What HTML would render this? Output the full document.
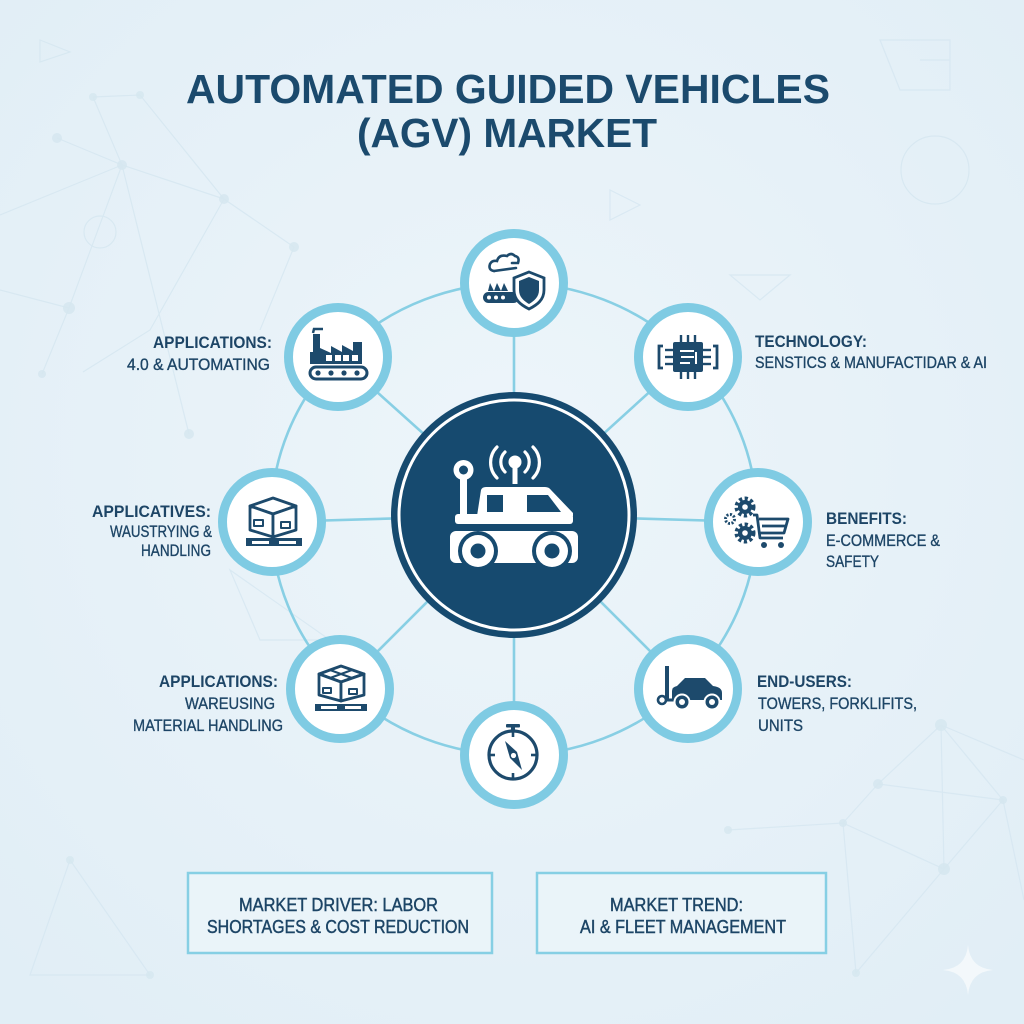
<!DOCTYPE html>
<html><head><meta charset="utf-8">
<style>
html,body{margin:0;padding:0;width:1024px;height:1024px;overflow:hidden;}
body{background:#e6f1f8;}
svg{display:block;}
</style></head>
<body>
<svg width="1024" height="1024" viewBox="0 0 1024 1024" xmlns="http://www.w3.org/2000/svg">
<defs>
<radialGradient id="bg" cx="50%" cy="45%" r="70%">
<stop offset="0" stop-color="#edf5fa"/>
<stop offset="1" stop-color="#e1eef6"/>
</radialGradient>
</defs>
<rect width="1024" height="1024" fill="url(#bg)"/>

<!-- faint background network -->
<g stroke="#d4e6f0" stroke-width="1.2" fill="none" opacity="0.75">
<path d="M93 97 L140 95 L224 199 L294 247 M93 97 L122 165 L224 199 M57 138 L122 165 L69 308 L42 374 M122 165 L189 434 M0 215 L122 165 M224 199 L150 330 L83 372 M294 247 L260 330 M0 290 L69 308"/>
<path d="M941 725 L878 784 L1003 800 L944 869 L843 823 L878 784 M941 725 L1003 800 M843 823 L728 830 M944 869 L856 973 L843 823 M941 725 L944 869 M1024 760 L941 725 M1003 800 L1024 900"/>
<path d="M70 860 L150 975 L30 975 Z M260 640 L330 640 L230 570 Z"/>
<path d="M40 40 L70 52 L40 62 Z M880 40 L950 40 L950 90 L900 90 Z M920 60 L950 60 M610 190 L640 205 L610 220 Z M730 275 L790 275 L760 300 Z"/>
<circle cx="935" cy="170" r="34"/>
<circle cx="100" cy="232" r="16"/>
</g>
<g fill="#d6e7f0" opacity="0.85">
<circle cx="93" cy="97" r="4"/><circle cx="140" cy="95" r="4"/><circle cx="57" cy="138" r="5"/>
<circle cx="122" cy="165" r="5"/><circle cx="224" cy="199" r="5"/><circle cx="294" cy="247" r="5"/>
<circle cx="69" cy="308" r="6"/><circle cx="42" cy="374" r="4"/><circle cx="189" cy="434" r="5"/>
<circle cx="941" cy="725" r="6"/><circle cx="878" cy="784" r="5"/><circle cx="1003" cy="800" r="4"/>
<circle cx="944" cy="869" r="6"/><circle cx="843" cy="823" r="4"/><circle cx="728" cy="830" r="4"/>
<circle cx="856" cy="973" r="4"/><circle cx="70" cy="860" r="4"/><circle cx="150" cy="975" r="4"/>
</g>
<path d="M968 945 Q970 968 993 970 Q970 972 968 995 Q966 972 943 970 Q966 968 968 945 Z" fill="#f3f8fb"/>

<!-- Title -->
<g font-family="Liberation Sans, Arial, sans-serif" font-weight="bold" fill="#1b4a6d">
<text x="186" y="103" font-size="41" textLength="644" lengthAdjust="spacingAndGlyphs">AUTOMATED GUIDED VEHICLES</text>
<text x="357" y="147" font-size="41" textLength="300" lengthAdjust="spacingAndGlyphs">(AGV) MARKET</text>
</g>

<!-- Ring and spokes -->
<g stroke="#88cfe4" stroke-width="2.6" fill="none">
<ellipse cx="514" cy="519" rx="243" ry="236"/>
<line x1="514" y1="515" x2="514" y2="283"/>
<line x1="514" y1="515" x2="688" y2="357"/>
<line x1="514" y1="515" x2="758" y2="522"/>
<line x1="514" y1="515" x2="688" y2="689"/>
<line x1="514" y1="515" x2="514" y2="755"/>
<line x1="514" y1="515" x2="340" y2="689"/>
<line x1="514" y1="515" x2="272" y2="522"/>
<line x1="514" y1="515" x2="338" y2="357"/>
</g>

<!-- Center circle -->
<circle cx="514" cy="515" r="123" fill="#164a6f"/>
<circle cx="514" cy="515" r="115" fill="none" stroke="#ffffff" stroke-width="3"/>
<!-- center AGV icon -->
<g fill="#ffffff">
<rect x="460" y="476" width="7" height="40"/>
<circle cx="463.5" cy="470" r="10"/>
<rect x="512.5" y="462" width="5" height="22"/>
<circle cx="515" cy="462" r="6.5"/>
<path d="M477 516 L481 490 Q482 487 486 487 L545 487 Q549 487 551 490 L573 513 L573 516 Z"/>
<rect x="455" y="514" width="118" height="10" rx="3"/>
<rect x="450" y="531" width="128" height="32" rx="6"/>
</g>
<g fill="#164a6f">
<rect x="487" y="495" width="16" height="17"/>
<path d="M527 495 L548 495 L561 512 L527 512 Z"/>
<circle cx="463.5" cy="470" r="4.5"/>
<circle cx="478" cy="551" r="20"/>
<circle cx="552" cy="551" r="20"/>
</g>
<g fill="#ffffff">
<circle cx="478" cy="551" r="16"/>
<circle cx="552" cy="551" r="16"/>
</g>
<g fill="#164a6f">
<circle cx="478" cy="551" r="7.5"/>
<circle cx="552" cy="551" r="7.5"/>
</g>
<g fill="none" stroke="#ffffff" stroke-width="3.2" stroke-linecap="round">
<path d="M505 452 A14 14 0 0 0 505 472"/>
<path d="M525 452 A14 14 0 0 1 525 472"/>
<path d="M497 447 A22 22 0 0 0 497 478"/>
<path d="M533 447 A22 22 0 0 1 533 478"/>
</g>

<!-- Satellite circles -->
<g fill="#ffffff" stroke="#7fcbe3" stroke-width="9">
<circle cx="514" cy="283" r="49.5"/>
<circle cx="688" cy="357" r="49.5"/>
<circle cx="758" cy="522" r="49.5"/>
<circle cx="688" cy="689" r="49.5"/>
<circle cx="514" cy="755" r="49.5"/>
<circle cx="340" cy="689" r="49.5"/>
<circle cx="272" cy="522" r="49.5"/>
<circle cx="338" cy="357" r="49.5"/>
</g>

<!-- Top icon -->
<g>
<path d="M494 271 Q488 270 490 264 Q492 260 497 261 Q499 254 507 256 Q511 252 515 256 Q520 257 518 263 L512 263" fill="none" stroke="#1d4a6c" stroke-width="2.6" stroke-linecap="round"/>
<path d="M494 271 L516 268" stroke="#1d4a6c" stroke-width="2.6" stroke-linecap="round"/>
<path d="M488 291 L490 283 L494 291 L497 283 L501 291 L504 283 L508 291 Z" fill="#1d4a6c"/>
<rect x="483" y="292" width="36" height="11" rx="5.5" fill="#1d4a6c"/>
<g fill="#ffffff"><circle cx="489" cy="297.5" r="2"/><circle cx="496" cy="297.5" r="2"/><circle cx="503" cy="297.5" r="2"/></g>
<path d="M529 272 L544 278 V290 C544 300 537 305 529 309 C521 305 514 300 514 290 V278 Z" fill="#ffffff" stroke="#1d4a6c" stroke-width="2.8"/>
<path d="M529 277 L539 281 V290 C539 297 534 301 529 304 Z" fill="#1d4a6c"/>
<path d="M529 277 L519 281 V290 C519 297 524 301 529 304 Z" fill="#1d4a6c"/>
</g>

<!-- UL factory -->
<g fill="#1d4a6c">
<rect x="313" y="334" width="7" height="20"/>
<path d="M313 333 L314 329 L323 329" fill="none" stroke="#1d4a6c" stroke-width="2.5"/>
<path d="M310 364 L310 352 L320 352 L320 348 L331 353 L331 346 L342 352 L342 345 L353 351 L353 342 L362 342 L362 364 Z"/>
<g fill="#ffffff"><rect x="326" y="355" width="6" height="6"/><rect x="335" y="355" width="6" height="6"/><rect x="343" y="355" width="6" height="6"/><rect x="352" y="355" width="6" height="6"/></g>
<rect x="310" y="367" width="57" height="12" rx="6" fill="#ffffff" stroke="#1d4a6c" stroke-width="3"/>
<circle cx="318" cy="373" r="2.6"/><circle cx="331" cy="373" r="2.6"/><circle cx="344" cy="373" r="2.6"/><circle cx="357" cy="373" r="2.6"/>
</g>

<!-- UR chip -->
<g>
<g stroke="#1d4a6c" stroke-width="2.4">
<line x1="681" y1="335" x2="681" y2="343"/><line x1="688" y1="335" x2="688" y2="343"/><line x1="695" y1="335" x2="695" y2="343"/>
<line x1="681" y1="371" x2="681" y2="379"/><line x1="688" y1="371" x2="688" y2="379"/><line x1="695" y1="371" x2="695" y2="379"/>
<line x1="665" y1="350" x2="674" y2="350"/><line x1="665" y1="357" x2="674" y2="357"/><line x1="665" y1="364" x2="674" y2="364"/>
<line x1="702" y1="350" x2="711" y2="350"/><line x1="702" y1="357" x2="711" y2="357"/><line x1="702" y1="364" x2="711" y2="364"/>
</g>
<rect x="673" y="342" width="30" height="30" rx="2" fill="#1d4a6c"/>
<path d="M680 351 H694 M681 357 H694 M680 363 H690 M696 352 V364" stroke="#ffffff" stroke-width="2" fill="none"/>
<path d="M663 346 H659 V368 H663 M713 346 H717 V368 H713" stroke="#1d4a6c" stroke-width="2.8" fill="none"/>
</g>

<!-- R gears + cart -->
<g>
<circle cx="745" cy="507" r="8" fill="none" stroke="#1d4a6c" stroke-width="5" stroke-dasharray="3 2.3"/>
<circle cx="745" cy="507" r="7" fill="#1d4a6c"/>
<circle cx="745" cy="507" r="2.8" fill="#ffffff"/>
<circle cx="745" cy="533" r="8" fill="none" stroke="#1d4a6c" stroke-width="5" stroke-dasharray="3 2.3"/>
<circle cx="745" cy="533" r="7" fill="#1d4a6c"/>
<circle cx="745" cy="533" r="2.8" fill="#ffffff"/>
<circle cx="730" cy="519" r="4.5" fill="none" stroke="#1d4a6c" stroke-width="3" stroke-dasharray="2 1.5"/>
<circle cx="730" cy="519" r="1.5" fill="#ffffff"/>
<path d="M753 515 L757 515 L760 538 L783 538 M759 519 L788 519 L784 533 L760 533 M762 526 L786 526" fill="none" stroke="#1d4a6c" stroke-width="2.8" stroke-linejoin="round"/>
<circle cx="764" cy="545" r="3" fill="#1d4a6c"/><circle cx="781" cy="545" r="3" fill="#1d4a6c"/>
</g>

<!-- LR forklift/car -->
<g>
<rect x="665" y="666" width="4" height="33" fill="#1d4a6c"/>
<line x1="665" y1="700" x2="675" y2="700" stroke="#1d4a6c" stroke-width="3"/>
<circle cx="662" cy="700" r="4" fill="#ffffff" stroke="#1d4a6c" stroke-width="2.6"/>
<path d="M672 700 V691 Q672 687 677 686 L685 678 H705 L713 686 Q722 687 722 693 V700 Z" fill="#1d4a6c"/>
<circle cx="682" cy="702" r="7.5" fill="#1d4a6c" stroke="#ffffff" stroke-width="2"/>
<circle cx="682" cy="702" r="3" fill="#ffffff"/>
<circle cx="712" cy="702" r="7.5" fill="#1d4a6c" stroke="#ffffff" stroke-width="2"/>
<circle cx="712" cy="702" r="3" fill="#ffffff"/>
</g>

<!-- Bottom compass -->
<g>
<circle cx="513" cy="755" r="24" fill="none" stroke="#1d4a6c" stroke-width="3.2"/>
<rect x="511" y="727" width="4" height="5" fill="#1d4a6c"/>
<rect x="506" y="724" width="14" height="3.5" rx="1" fill="#1d4a6c"/>
<g stroke="#1d4a6c" stroke-width="2.6">
<line x1="513" y1="731" x2="513" y2="737"/><line x1="513" y1="773" x2="513" y2="779"/>
<line x1="489" y1="755" x2="495" y2="755"/><line x1="531" y1="755" x2="537" y2="755"/>
</g>
<path d="M505 741 L517 752 L522 770 L510 758 Z" fill="#1d4a6c"/>
<circle cx="513.5" cy="755.5" r="2.6" fill="#ffffff"/>
</g>

<!-- L box on pallet -->
<g stroke="#1d4a6c" stroke-width="2.8" fill="#ffffff" stroke-linejoin="round">
<path d="M250 506 L273 498 L296 506 L273 514 Z"/>
<path d="M250 506 L273 514 L273 537 L250 530 Z"/>
<path d="M296 506 L273 514 L273 537 L296 530 Z"/>
<rect x="254" y="520" width="9" height="6" stroke-width="2"/>
<rect x="281" y="522" width="9" height="6" stroke-width="2"/>
</g>
<rect x="246" y="538" width="56" height="8" fill="#1d4a6c"/>
<g fill="#ffffff"><rect x="252" y="541" width="17" height="3"/><rect x="279" y="541" width="17" height="3"/></g>

<!-- LL box on pallet -->
<g stroke="#1d4a6c" stroke-width="2.8" fill="#ffffff" stroke-linejoin="round">
<path d="M319 674 L341 666 L364 674 L341 682 Z"/>
<path d="M330 670 L352 678 M352 670 L330 678" stroke-width="2"/>
<path d="M319 674 L341 682 L341 701 L319 695 Z"/>
<path d="M364 674 L341 682 L341 701 L364 695 Z"/>
<rect x="323" y="688" width="8" height="5" stroke-width="2"/>
<rect x="349" y="689" width="8" height="5" stroke-width="2"/>
</g>
<rect x="315" y="704" width="52" height="7" fill="#1d4a6c"/>
<g fill="#ffffff"><rect x="321" y="706" width="16" height="3"/><rect x="345" y="706" width="16" height="3"/></g>

<!-- Labels -->
<g font-family="Liberation Sans, Arial, sans-serif" fill="#1d4566" font-size="17">
<g font-weight="bold">
<text x="153" y="348" textLength="119" lengthAdjust="spacingAndGlyphs">APPLICATIONS:</text>
<text x="92" y="517" textLength="119" lengthAdjust="spacingAndGlyphs">APPLICATIVES:</text>
<text x="159" y="687" textLength="119" lengthAdjust="spacingAndGlyphs">APPLICATIONS:</text>
<text x="755" y="347" textLength="112" lengthAdjust="spacingAndGlyphs">TECHNOLOGY:</text>
<text x="826" y="524" textLength="81" lengthAdjust="spacingAndGlyphs">BENEFITS:</text>
<text x="757" y="687" textLength="95" lengthAdjust="spacingAndGlyphs">END-USERS:</text>
</g>
<g stroke="#1d4566" stroke-width="0.35">
<text x="127" y="370" textLength="143" lengthAdjust="spacingAndGlyphs">4.0 &amp; AUTOMATING</text>
<text x="110" y="537" textLength="102" lengthAdjust="spacingAndGlyphs">WAUSTRYING &amp;</text>
<text x="141" y="556" textLength="70" lengthAdjust="spacingAndGlyphs">HANDLING</text>
<text x="185" y="709" textLength="90" lengthAdjust="spacingAndGlyphs">WAREUSING</text>
<text x="133" y="731" textLength="150" lengthAdjust="spacingAndGlyphs">MATERIAL HANDLING</text>
<text x="755" y="368" textLength="232" lengthAdjust="spacingAndGlyphs">SENSTICS &amp; MANUFACTIDAR &amp; AI</text>
<text x="826" y="546" textLength="114" lengthAdjust="spacingAndGlyphs">E-COMMERCE &amp;</text>
<text x="826" y="567" textLength="53" lengthAdjust="spacingAndGlyphs">SAFETY</text>
<text x="758" y="709" textLength="159" lengthAdjust="spacingAndGlyphs">TOWERS, FORKLIFITS,</text>
<text x="758" y="731" textLength="45" lengthAdjust="spacingAndGlyphs">UNITS</text>
</g>
</g>

<!-- Bottom boxes -->
<rect x="188" y="873" width="304" height="80" fill="#eaf4f9" stroke="#86cfe4" stroke-width="2.5"/>
<rect x="537" y="873" width="289" height="80" fill="#eaf4f9" stroke="#86cfe4" stroke-width="2.5"/>
<g font-family="Liberation Sans, Arial, sans-serif" font-size="18" fill="#1d4566" stroke="#1d4566" stroke-width="0.45">
<text x="239" y="911" textLength="199" lengthAdjust="spacingAndGlyphs">MARKET DRIVER: LABOR</text>
<text x="207" y="933" textLength="262" lengthAdjust="spacingAndGlyphs">SHORTAGES &amp; COST REDUCTION</text>
<text x="610" y="911" textLength="133" lengthAdjust="spacingAndGlyphs">MARKET TREND:</text>
<text x="580" y="933" textLength="206" lengthAdjust="spacingAndGlyphs">AI &amp; FLEET MANAGEMENT</text>
</g>
</svg>
</body></html>
